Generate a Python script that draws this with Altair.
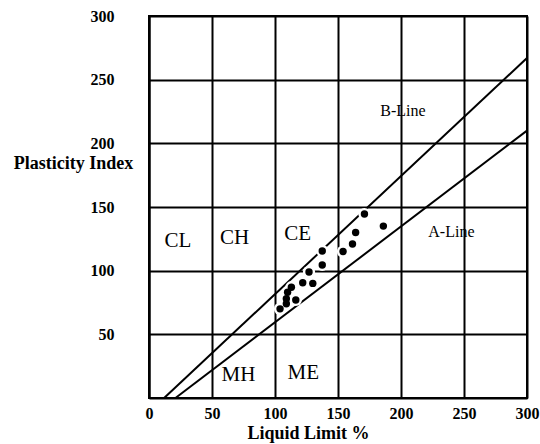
import altair as alt
import pandas as pd

# Sample points (Liquid Limit %, Plasticity Index)
pt_ll = [104, 109, 109, 110, 113, 116.5, 122, 130, 127, 137.5, 137.5, 154, 161.5, 164, 171, 186]
pt_pi = [70, 74, 78, 83, 87, 77, 90.5, 90, 99, 104.5, 115.5, 115, 121, 130, 144.5, 135]

# Reference lines (end points)
bline_ll = [12, 300]
bline_pi = [0, 267]
aline_ll = [21, 300]
aline_pi = [0, 210]

# Zone labels
zone_names = ["CL", "CH", "CE", "MH", "ME"]
zone_ll = [23, 68, 118, 71, 122.5]
zone_pi = [123, 126, 129, 18, 19.5]

# Line labels
line_names = ["B-Line", "A-Line"]
line_lab_ll = [201.5, 240]
line_lab_pi = [225.5, 130.5]

x_ticks = [0, 50, 100, 150, 200, 250, 300]
y_ticks = [50, 100, 150, 200, 250, 300]

FONT = "Liberation Serif"

pts = pd.DataFrame({"ll": pt_ll, "pi": pt_pi})
lines = pd.DataFrame({
    "ll": bline_ll + aline_ll,
    "pi": bline_pi + aline_pi,
    "line": ["B"] * len(bline_ll) + ["A"] * len(aline_ll),
})
zones = pd.DataFrame({"ll": zone_ll, "pi": zone_pi, "name": zone_names})
line_labs = pd.DataFrame({"ll": line_lab_ll, "pi": line_lab_pi, "name": line_names})

xscale = alt.Scale(domain=[0, 300], nice=False, zero=False)
yscale = alt.Scale(domain=[0, 300], nice=False, zero=False)

x_axis = alt.Axis(
    values=x_ticks, title="Liquid Limit %", grid=True, ticks=False, tickSize=0,
    labelPadding=7, labelFlush=False, labelOverlap=False, labelBaseline="top",
    titleX=159, titleY=35, titleAlign="center", titleBaseline="middle",
    titleAnchor="start",
)
y_axis = alt.Axis(
    values=y_ticks, title="Plasticity Index", grid=True, ticks=False, tickSize=0,
    labelPadding=35, labelFlush=False, labelOverlap=False, labelBaseline="middle",
    titleAngle=0, titleX=-76, titleY=147, titleAlign="center", titleBaseline="middle",
    titleAnchor="start",
)

base_lines = alt.Chart(lines).mark_line(color="black", strokeWidth=2).encode(
    x=alt.X("ll:Q", scale=xscale, axis=x_axis),
    y=alt.Y("pi:Q", scale=yscale, axis=y_axis),
    detail="line:N",
)

halo = alt.Chart(pts).mark_circle(color="white", opacity=1, size=150).encode(
    x="ll:Q", y="pi:Q"
)
dots = alt.Chart(pts).mark_circle(color="black", opacity=1, size=55).encode(
    x="ll:Q", y="pi:Q"
)

zone_text = alt.Chart(zones).mark_text(
    font=FONT, fontSize=21, color="black", align="center", baseline="middle"
).encode(x="ll:Q", y="pi:Q", text="name:N")

line_text = alt.Chart(line_labs).mark_text(
    font=FONT, fontSize=16, color="black", align="center", baseline="middle"
).encode(x="ll:Q", y="pi:Q", text="name:N")

chart = alt.layer(base_lines, halo, dots, zone_text, line_text).properties(
    width=378, height=382,
    padding={"left": 149, "top": 16, "right": 13, "bottom": 46},
    autosize=alt.AutoSizeParams(type="none"),
    background="white",
).configure_view(
    stroke="black", strokeWidth=2
).configure_axis(
    gridColor="black", gridWidth=2, gridOpacity=1,
    domainColor="black", domainWidth=2,
    labelFont=FONT, labelFontSize=16, labelFontWeight="bold", labelColor="black",
    titleFont=FONT, titleFontSize=18, titleFontWeight="bold", titleColor="black",
)

chart.save("out.html", embed_options={"renderer": "svg", "actions": False})
